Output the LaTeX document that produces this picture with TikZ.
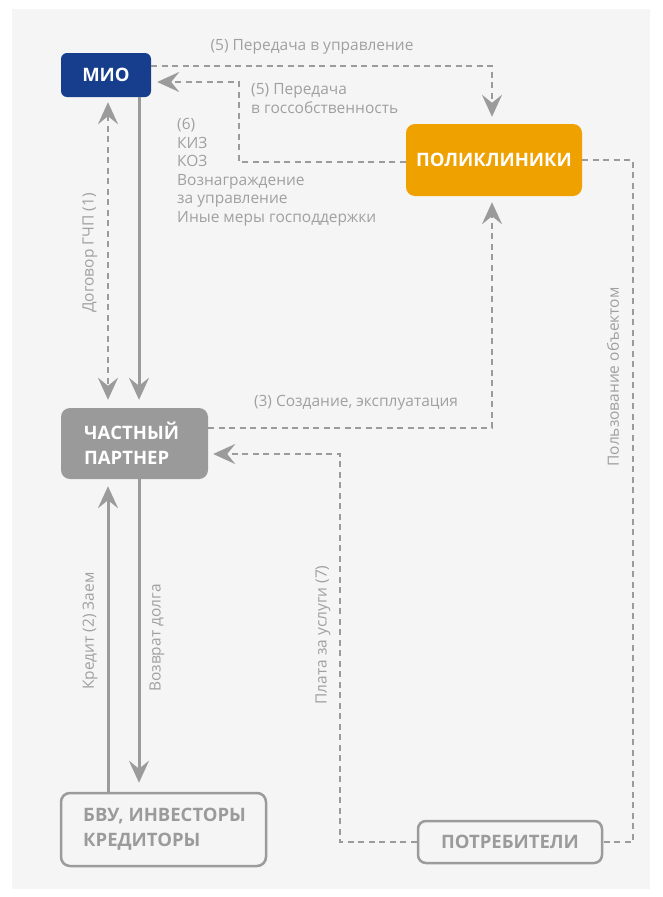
\documentclass[tikz,border=0pt]{standalone}
\usepackage{fontspec}
\setmainfont{Open Sans}
\usetikzlibrary{arrows.meta}
\definecolor{bg}{HTML}{F5F5F5}
\definecolor{mioblue}{HTML}{173E8D}
\definecolor{polorange}{HTML}{EFA100}
\definecolor{ln}{HTML}{9B9B9B}
\definecolor{lbl}{HTML}{A0A0A0}
\definecolor{boxgray}{HTML}{9A9A9A}
\tikzset{
  Arr/.tip={Stealth[length=22pt,width=20pt,inset=8pt]},
  solidline/.style={draw=ln,line width=3pt},
  dl/.style={draw=ln,line width=2.6pt,dash pattern=on 6pt off 4.5pt},
  lab/.style={text=lbl,font=\fontsize{15.5}{18.5}\selectfont,inner sep=0pt},
  boxtxt/.style={font=\fontsize{18.5}{25}\selectfont\bfseries,inner sep=0pt},
}
\begin{document}
\begin{tikzpicture}[x=1pt,y=-1pt]
\useasboundingbox (0,0) rectangle (662,897);
\fill[bg] (12,9) rectangle (650,889);
% nodes
\node[boxtxt,fill=mioblue,text=white,rounded corners=6pt,minimum width=90pt,minimum height=44pt] (mio) at (106,75) {МИО};
\node[boxtxt,fill=polorange,text=white,rounded corners=9pt,minimum width=176pt,minimum height=72pt] (pol) at (494,160) {ПОЛИКЛИНИКИ};
\node[fill=boxgray,rounded corners=9pt,minimum width=147pt,minimum height=71pt,inner sep=0pt] (part) at (134.5,443.5) {};
\node[boxtxt,text=white,anchor=west,align=left] (partt) at (84,443.5) {ЧАСТНЫЙ\\ПАРТНЕР};
\node[draw=ln,line width=2.5pt,fill=bg,rounded corners=9pt,minimum width=205pt,minimum height=73pt,inner sep=0pt] (bvu) at (163.5,829.5) {};
\node[boxtxt,text=ln,anchor=west,align=left] (bvut) at (83,829.5) {БВУ, ИНВЕСТОРЫ\\КРЕДИТОРЫ};
\node[boxtxt,draw=ln,line width=2.5pt,fill=bg,text=ln,rounded corners=8pt,minimum width=184pt,minimum height=42pt] (potr) at (510,842) {ПОТРЕБИТЕЛИ};
% connectors
\draw[dl,-Arr,shorten >=7pt] (mio.east |- 0,66) -| (pol.north -| 492,0);
\draw[dl,-Arr,shorten >=6pt] (pol.west |- 0,162) -- (239,162) -- (239,82) -- (mio.east |- 0,82);
\draw[dl,Arr-Arr,shorten <=5pt,shorten >=8pt] (mio.south -| 108,0) -- (part.north -| 108,0);
\draw[solidline,-Arr,shorten >=8pt] (mio.south -| 139,0) -- (part.north -| 139,0);
\draw[dl,-Arr,shorten >=6pt] (part.east |- 0,428) -| (pol.south -| 492,0);
\draw[dl,-Arr,shorten >=5pt] (potr.west) -- (340,842) -- (340,454) -- (part.east |- 0,454);
\draw[dl] (pol.east |- 0,160) -- (633,160) -- (633,842) -- (potr.east);
\draw[solidline,-Arr,shorten >=7pt] (bvu.north -| 108,0) -- (part.south -| 108,0);
\draw[solidline,-Arr,shorten >=9pt] (part.south -| 139,0) -- (bvu.north -| 139,0);
% labels
\node[lab] (l5a) at (312,47) {(5) Передача в управление};
\node[lab,anchor=west,align=left] (l5b) at (251,98.5) {(5) Передача\\в госсобственность};
\node[lab,anchor=west,align=left] (l6) at (177,172) {(6)\\КИЗ\\КОЗ\\Вознаграждение\\за управление\\Иные меры господдержки};
\node[lab,rotate=90] (l1) at (90,253) {Договор ГЧП (1)};
\node[lab] (l3) at (356,403) {(3) Создание, эксплуатация};
\node[lab,rotate=90] (lp) at (613,377) {Пользование объектом};
\node[lab,rotate=90] (l2) at (90,631) {Кредит (2) Заем};
\node[lab,rotate=90] (lv) at (157,638) {Возврат долга};
\node[lab,rotate=90] (l7) at (323,635) {Плата за услуги (7)};
\end{tikzpicture}
\end{document}
